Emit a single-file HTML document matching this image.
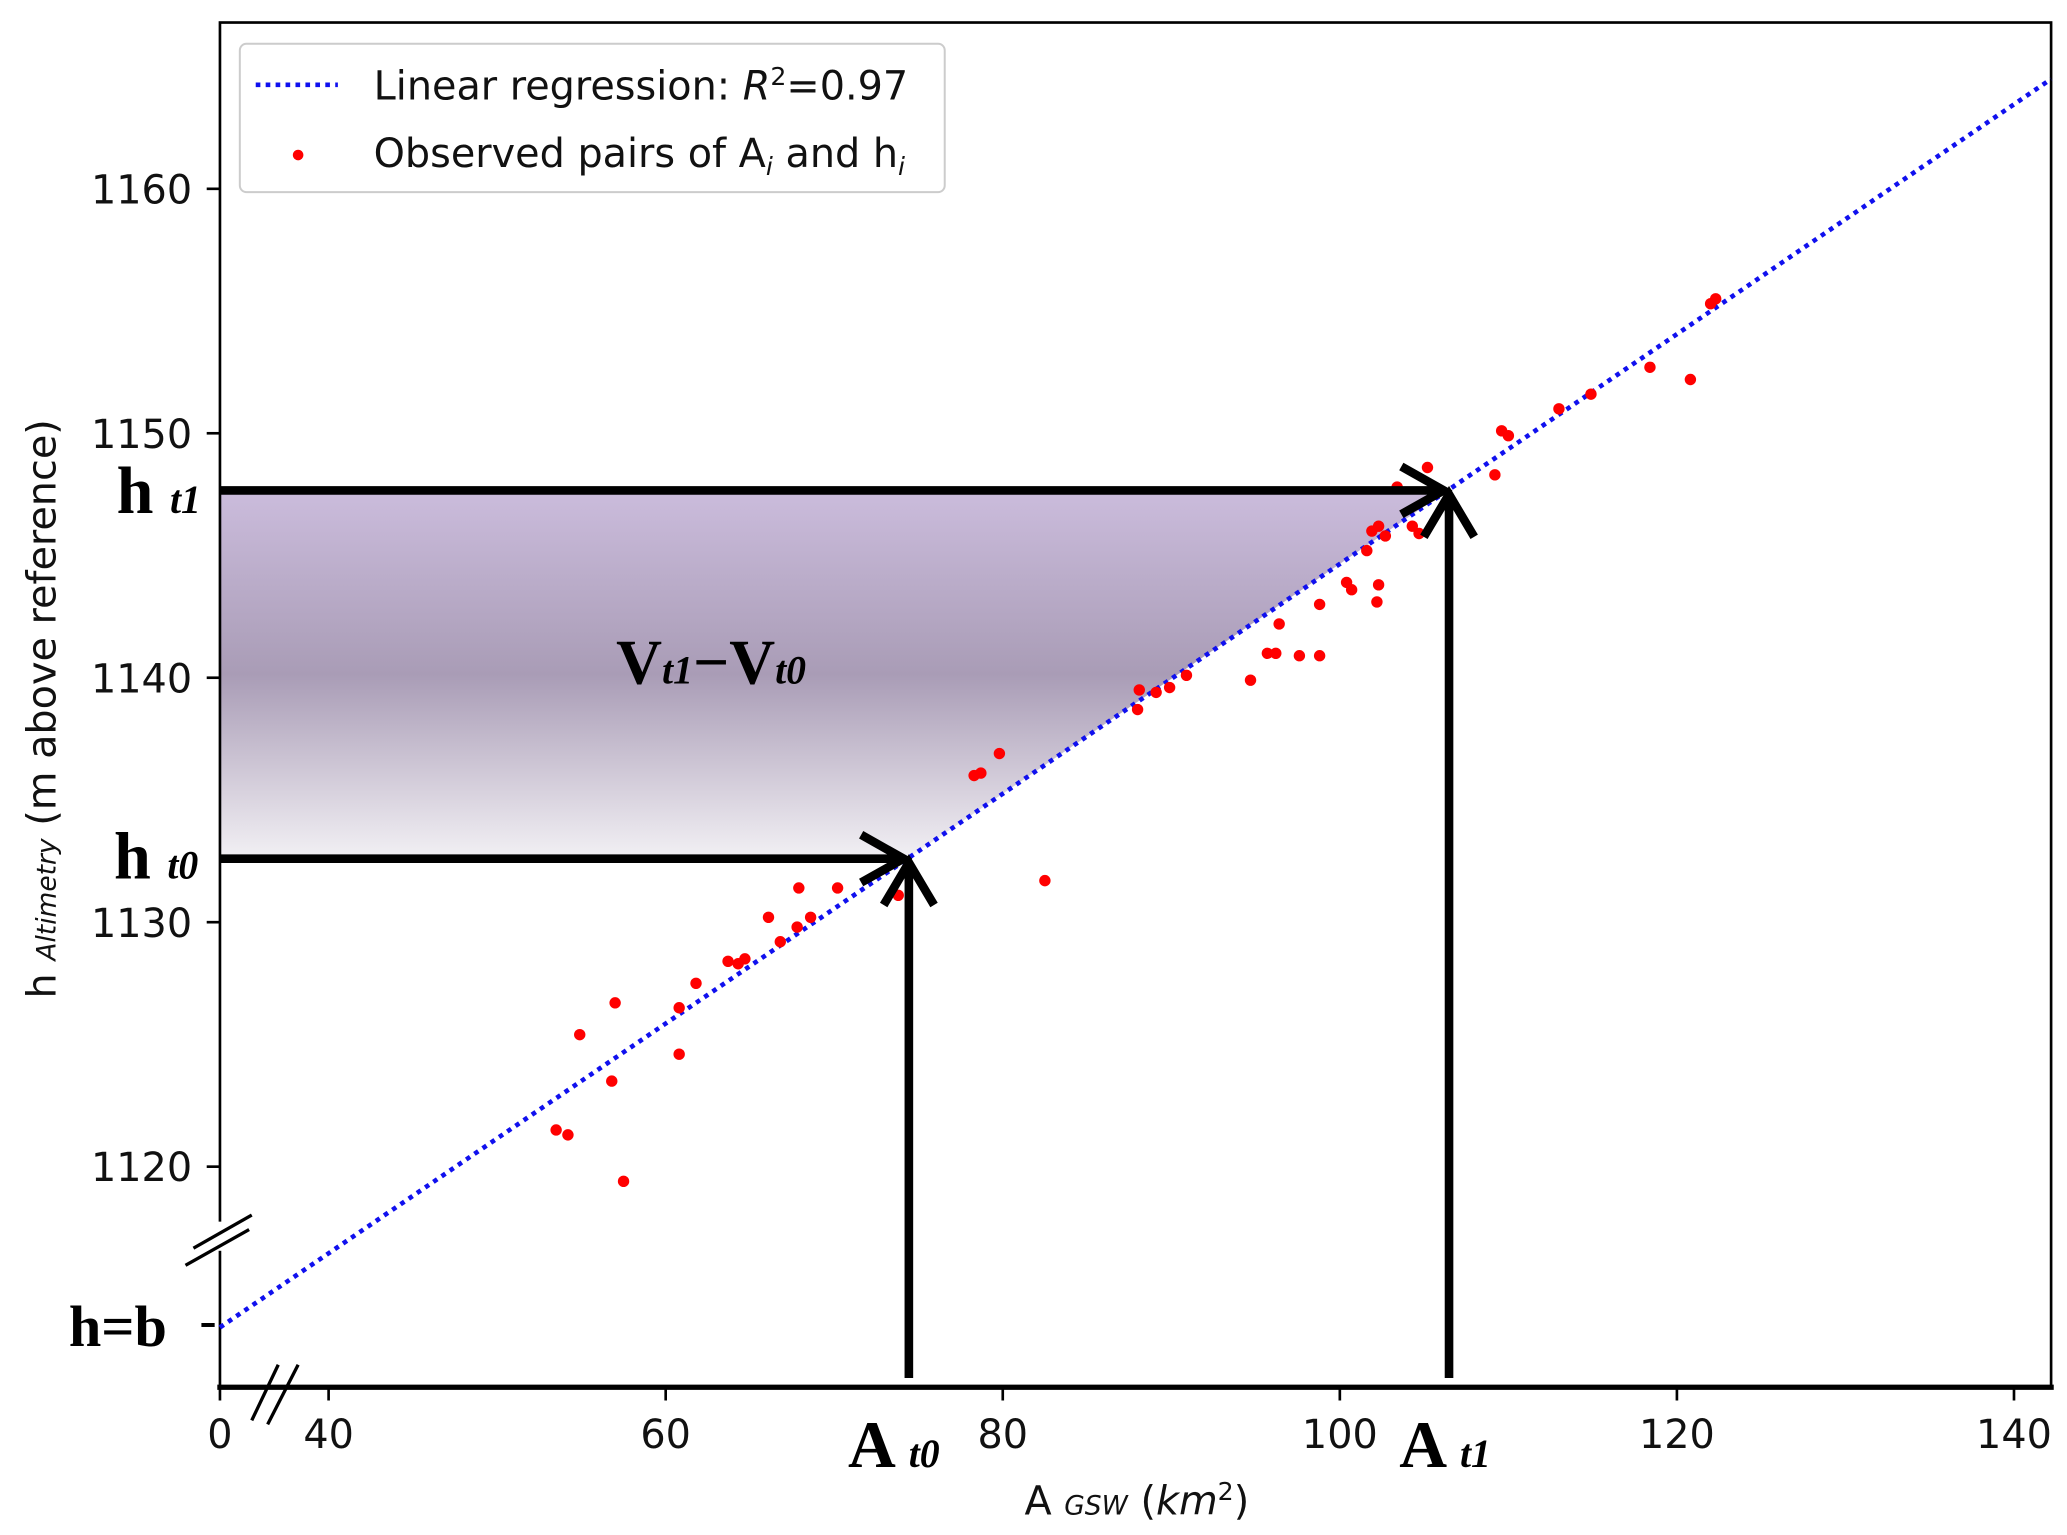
<!DOCTYPE html>
<html><head><meta charset="utf-8"><style>
html,body{margin:0;padding:0;background:#fff;}
svg{display:block;}
.tk{font-family:"DejaVu Sans","Liberation Sans",sans-serif;font-size:30px;fill:#111;}
.sf{font-family:"Liberation Serif",serif;font-weight:bold;fill:#000;}
</style></head><body>
<svg id="chart" width="2067" height="1535" viewBox="0 0 1560 1158.5" xmlns="http://www.w3.org/2000/svg">
<defs>
<linearGradient id="vg" x1="0" y1="0" x2="0" y2="1">
<stop offset="0" stop-color="#cbbcdc"/><stop offset="0.5" stop-color="#a99cb6"/><stop offset="1" stop-color="#f2f0f4"/>
</linearGradient>
</defs>
<g id="fill"></g>
<rect x="166" y="17" width="1382" height="1030" fill="none" stroke="#000" stroke-width="2"/>
<rect x="160" y="922" width="14" height="22" fill="#fff"/>
<line x1="164" y1="1047" x2="1550" y2="1047" stroke="#000" stroke-width="4"/>
<g id="ticks"></g>
<g id="line"></g>
<g id="pts"></g>
<g id="arrows" stroke="#000" stroke-width="6.5" fill="none"></g>
<line x1="140" y1="955" x2="188" y2="928" stroke="#000" stroke-width="2.5"/>
<line x1="146" y1="942" x2="190" y2="917" stroke="#000" stroke-width="2.5"/>
<line x1="190" y1="1072" x2="210" y2="1030" stroke="#000" stroke-width="2.5"/>
<line x1="202" y1="1075" x2="225" y2="1030" stroke="#000" stroke-width="2.5"/>
<line x1="152" y1="1000" x2="162" y2="1000" stroke="#000" stroke-width="3"/>
<text class="sf" x="52" y="1016" font-size="44">h=b</text>
<text class="sf" x="88" y="387" font-size="50">h <tspan font-style="italic" font-size="30">t1</tspan></text>
<text class="sf" x="86" y="663" font-size="50">h <tspan font-style="italic" font-size="30">t0</tspan></text>
<text class="sf" x="640" y="1107" font-size="50">A <tspan font-style="italic" font-size="30">t0</tspan></text>
<text class="sf" x="1056" y="1107" font-size="50">A <tspan font-style="italic" font-size="30">t1</tspan></text>
<text class="sf" x="465" y="516" font-size="48">V<tspan font-style="italic" font-size="30">t1</tspan>−V<tspan font-style="italic" font-size="30">t0</tspan></text>
<text class="tk" x="858" y="1143" text-anchor="middle">A <tspan font-size="20" font-style="italic">GSW</tspan> (<tspan font-style="italic">km</tspan><tspan font-size="19" dy="-11">2</tspan><tspan dy="11">)</tspan></text>
<text class="tk" transform="translate(42,535) rotate(-90)" text-anchor="middle">h <tspan font-size="20" font-style="italic">Altimetry</tspan> (m above reference)</text>
<g>
<rect x="181" y="33" width="532" height="112" rx="5" fill="#fff" fill-opacity="0.85" stroke="#ccc" stroke-width="1.5"/>
<line x1="193" y1="64" x2="255" y2="64" stroke="#1010ee" stroke-width="3.5" stroke-dasharray="3.5,4"/>
<circle cx="225" cy="117" r="4" fill="#f00"/>
<text class="tk" x="282" y="75">Linear regression: <tspan font-style="italic">R</tspan><tspan font-size="19" dy="-11">2</tspan><tspan dy="11">=0.97</tspan></text>
<text class="tk" x="282" y="126">Observed pairs of A<tspan font-size="19" font-style="italic" dy="6">i</tspan><tspan dy="-6"> and h</tspan><tspan font-size="19" font-style="italic" dy="6">i</tspan></text>
</g>
</svg>
<script>
const xTicks=[40,60,80,100,120,140];
const yTicks=[1120,1130,1140,1150,1160];
const areaVals=[53.5,54.2,54.9,57.0,56.8,57.5,60.8,60.8,61.8,63.7,64.3,64.7,66.1,66.8,67.8,67.9,68.6,70.2,73.8,78.3,78.7,79.8,82.5,88.0,88.1,89.1,89.9,90.9,94.7,95.7,96.2,96.4,97.6,98.8,98.8,100.4,100.7,102.2,102.3,101.6,101.9,102.3,102.7,103.4,104.3,104.7,105.2,109.2,109.6,110.0,113.0,114.9,118.4,120.8,122.0,122.3];
const heightVals=[1121.5,1121.3,1125.4,1126.7,1123.5,1119.4,1126.5,1124.6,1127.5,1128.4,1128.3,1128.5,1130.2,1129.2,1129.8,1131.4,1130.2,1131.4,1131.1,1136.0,1136.1,1136.9,1131.7,1138.7,1139.5,1139.4,1139.6,1140.1,1139.9,1141.0,1141.0,1142.2,1140.9,1140.9,1143.0,1143.9,1143.6,1143.1,1143.8,1145.2,1146.0,1146.2,1145.8,1147.8,1146.2,1145.9,1148.6,1148.3,1150.1,1149.9,1151.0,1151.6,1152.7,1152.2,1155.3,1155.5];
const regSlope=[0.47];
const regAnchor=[74.35,1132.6];
const aT=[74.35,106.4];
const xMin=[33.55], xMax=[142.2];
const NS='http://www.w3.org/2000/svg';
const X=a=>248+(a-40)*12.72;
const Y=h=>696-(h-1130)*18.45;
const reg=a=>regAnchor[1]+regSlope[0]*(a-regAnchor[0]);
function mk(t,at,p){const e=document.createElementNS(NS,t);for(const k in at)e.setAttribute(k,at[k]);p.appendChild(e);return e;}
const tg=document.getElementById('ticks');
xTicks.forEach(v=>{
 const l=mk('line',{x1:X(v),y1:1047,x2:X(v),y2:1057,stroke:'#000','stroke-width':2},tg);
 
 
 const t=mk('text',{x:X(v),y:1093,'text-anchor':'middle',class:'tk'},tg);t.textContent=v;
 
 
});
const z=mk('text',{x:166,y:1093,'text-anchor':'middle',class:'tk'},tg);z.textContent='0';


mk('line',{x1:166,y1:1047,x2:166,y2:1057,stroke:'#000','stroke-width':2},tg);
yTicks.forEach(v=>{
 const l=mk('line',{x1:156,y1:Y(v),x2:166,y2:Y(v),stroke:'#000','stroke-width':2},tg);
 
 
 const t=mk('text',{x:145,y:Y(v)+11,'text-anchor':'end',class:'tk'},tg);t.textContent=v;
 
 
});
const h0=reg(aT[0]),h1=reg(aT[1]);
const fp=mk('polygon',{points:`166,${Y(h1)} ${X(aT[1])},${Y(h1)} ${X(aT[0])},${Y(h0)} 166,${Y(h0)}`,fill:'url(#vg)'},document.getElementById('fill'));


const rl=mk('line',{x1:X(xMin[0]),y1:Y(reg(xMin[0])),x2:X(xMax[0]),y2:Y(reg(xMax[0])),stroke:'#1010ee','stroke-width':3.5,'stroke-dasharray':'3.5,4'},document.getElementById('line'));


const pg=document.getElementById('pts');
areaVals.forEach((a,i)=>{
 const c=mk('circle',{cx:X(a),cy:Y(heightVals[i]),r:4.3,fill:'#f00'},pg);
 
 
});
const ag=document.getElementById('arrows');
[[aT[0],h0],[aT[1],h1]].forEach(([a,h])=>{
 const x=X(a),y=Y(h);
 const p1=mk('path',{d:`M166 ${y} H${x-3} M${x-35} ${y-18} L${x-3} ${y} L${x-35} ${y+18}`},ag);
 
 
 const p2=mk('path',{d:`M${x+1} 1040 V${y+3} M${x-18} ${y+35} L${x+1} ${y+3} L${x+20} ${y+35}`},ag);
 
 
});
</script>
</body></html>
